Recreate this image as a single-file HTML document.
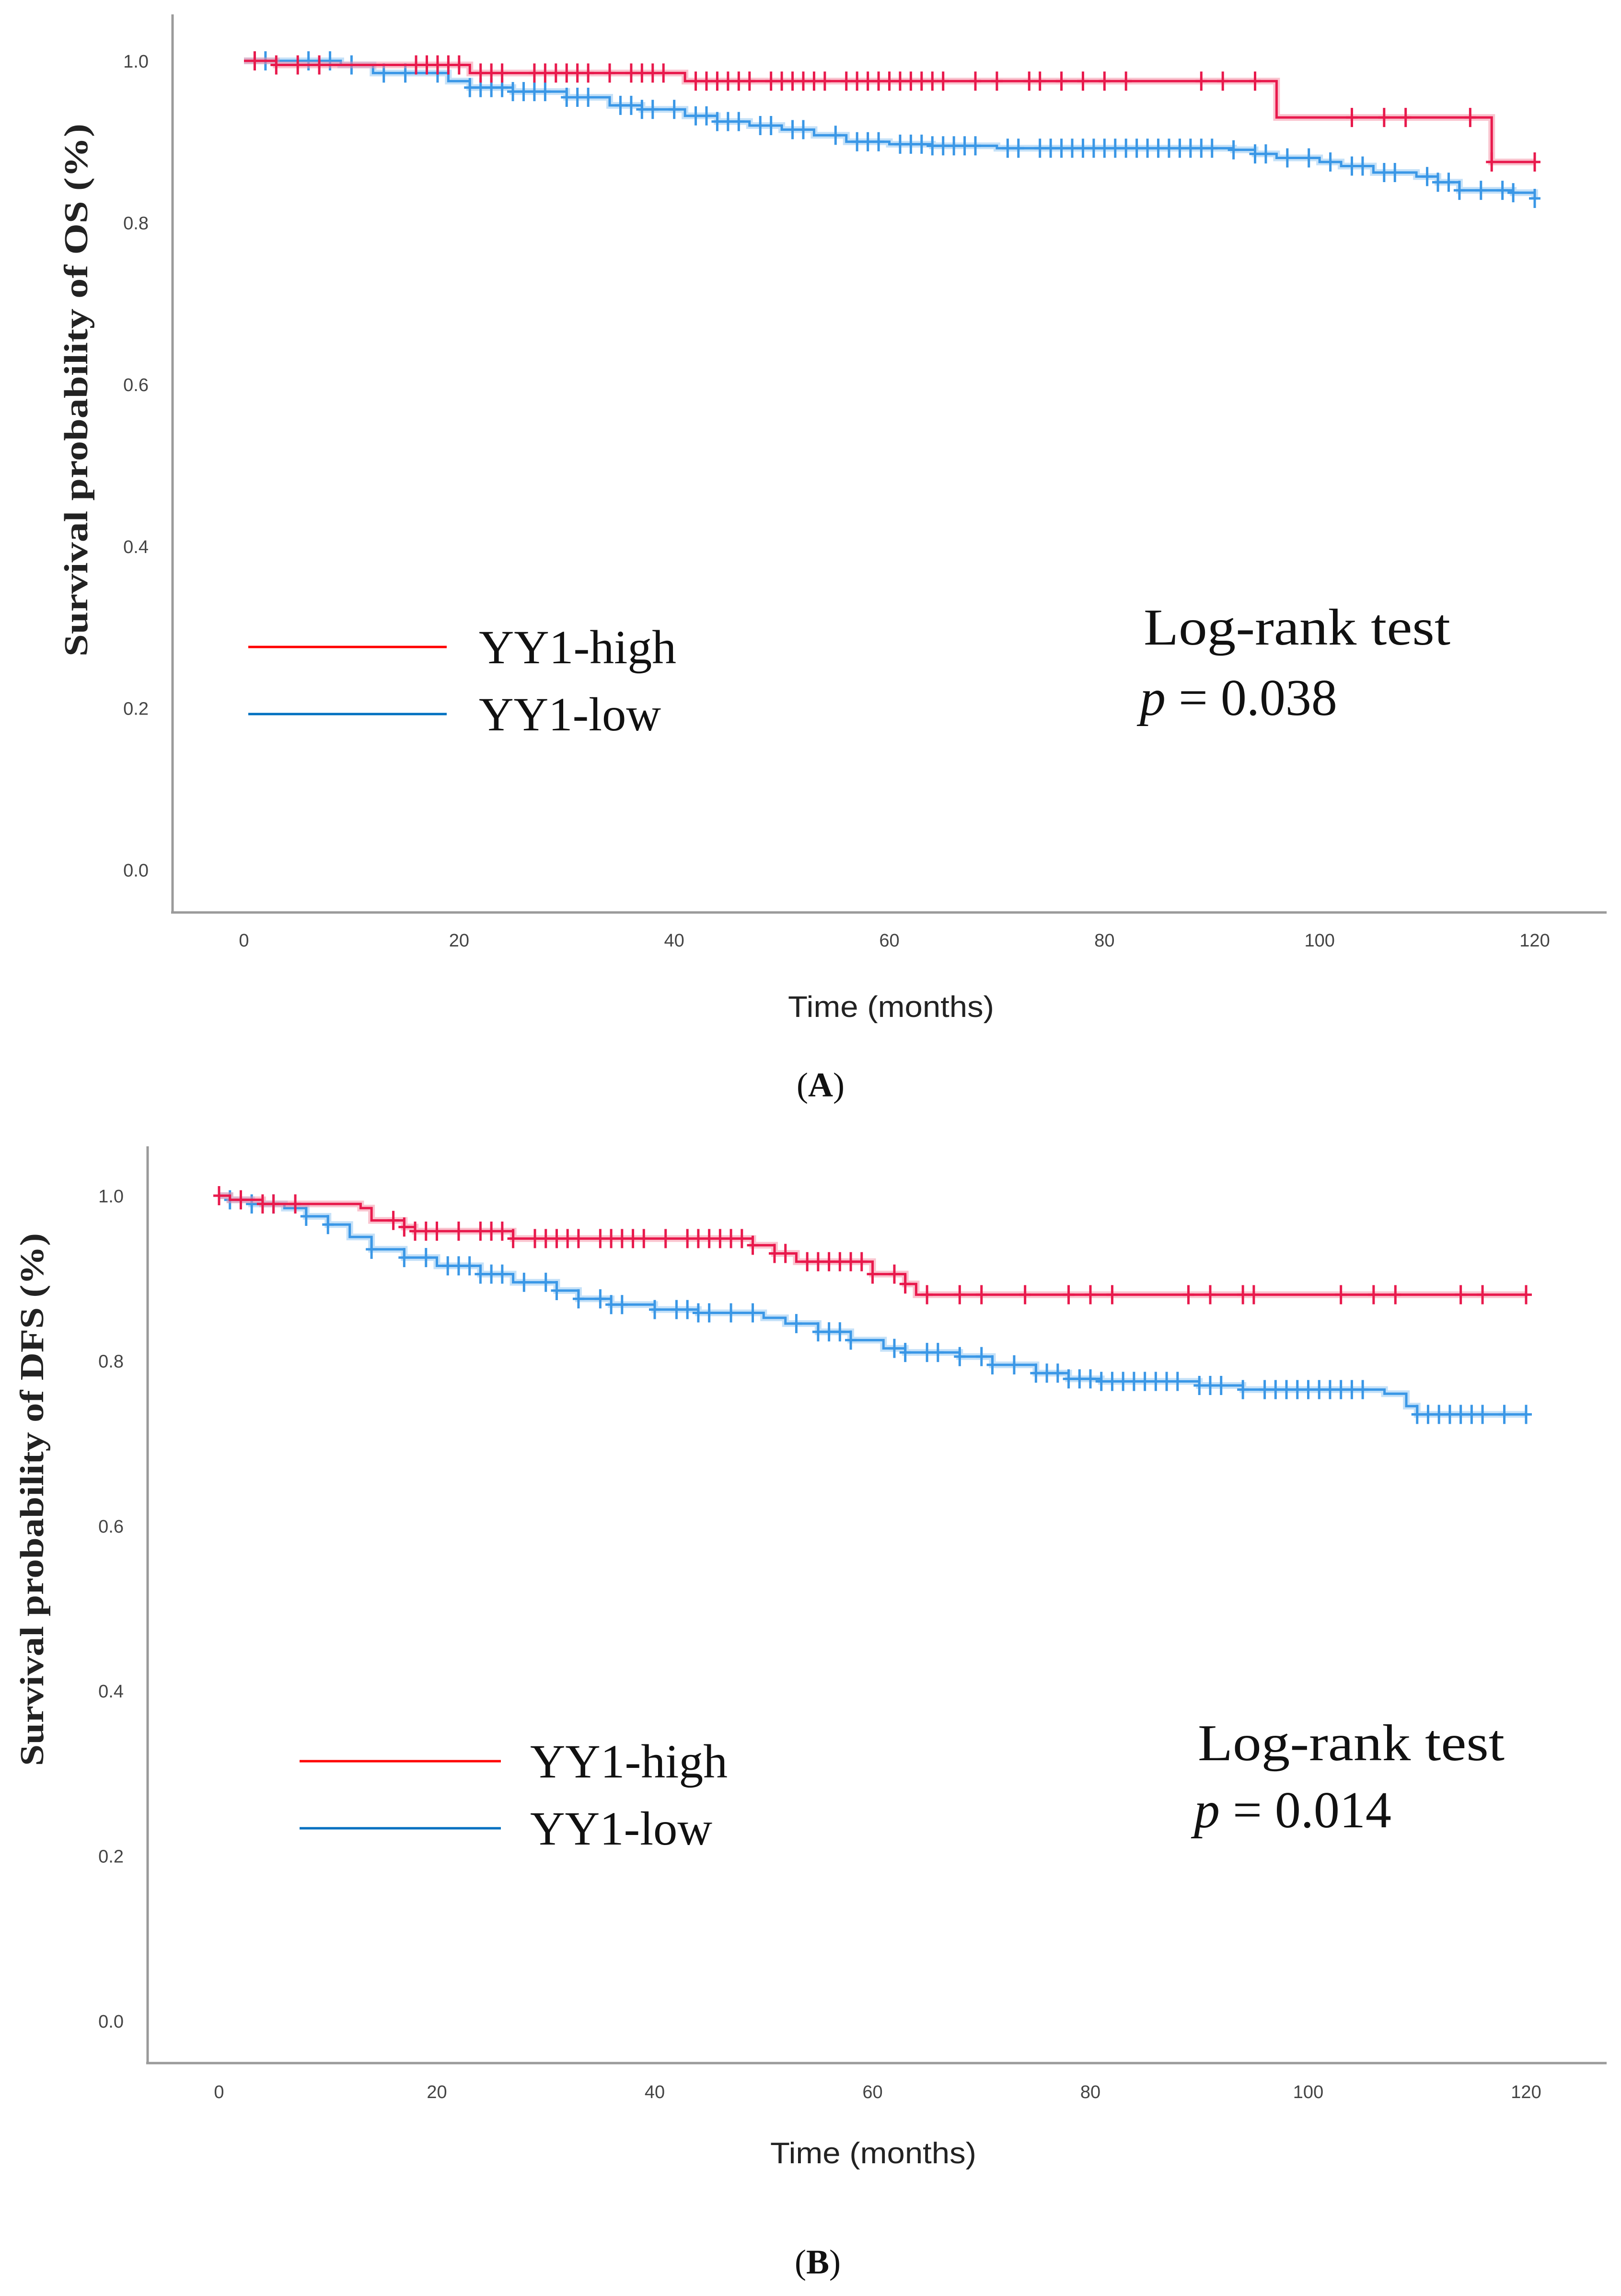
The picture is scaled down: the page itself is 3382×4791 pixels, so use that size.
<!DOCTYPE html>
<html><head><meta charset="utf-8"><style>
html,body{margin:0;padding:0;background:#fff;}
svg{display:block;}
</style></head><body>
<svg id="fig" width="3382" height="4791" viewBox="0 0 3382 4791" xmlns="http://www.w3.org/2000/svg"></svg>
<script>
// ---------- Panel A (OS) data ----------
const xTicks = [0,20,40,60,80,100,120];
const yTicks = [0.0,0.2,0.4,0.6,0.8,1.0];
const yTickLabels = ["0.0","0.2","0.4","0.6","0.8","1.0"];
const aHighT = [0,3,21,41,96,116,120];
const aHighS = [1.0,0.995,0.985,0.975,0.93,0.875,0.875];
const aHighCens = [1,3,5,7,16,17,18,19,20,22,23,24,27,28,29,30,31,32,34,36,37,38,39,42,43,44,45,46,47,49,50,51,52,53,54,56,57,58,59,60,61,62,63,64,65,68,70,73,74,76,78,80,82,89,91,94,103,106,108,114,116,120];
const aLowT = [0,9,12,19,21,25,30,34,37,41,44,47,50,53,56,60,64,70,92,94,96,100,102,105,109,111,113,118,120];
const aLowS = [1.0,0.995,0.985,0.975,0.967,0.962,0.955,0.945,0.94,0.932,0.925,0.92,0.915,0.908,0.9,0.897,0.895,0.892,0.89,0.885,0.88,0.875,0.87,0.862,0.857,0.85,0.84,0.837,0.83];
const aLowCens = [1,2,6,8,10,13,15,18,21,22,23,24,25,26,27,28,30,31,32,35,36,37,38,40,42,43,44,45,46,48,49,51,52,55,57,58,59,61,62,63,64,65,66,67,68,71,72,74,75,76,77,78,79,80,81,82,83,84,85,86,87,88,89,90,92,94,95,97,99,101,103,104,106,107,110,111,112,113,115,117,118,120];
// ---------- Panel B (DFS) data ----------
const bHighT = [0,1,4,13,14,17,18,27,49,51,53,60,63,64,120];
const bHighS = [1.0,0.995,0.99,0.985,0.97,0.962,0.957,0.948,0.94,0.93,0.92,0.905,0.893,0.88,0.88];
const bHighCens = [0,2,4,5,7,16,17,18,19,20,22,24,25,26,27,29,30,31,32,33,35,36,37,38,39,41,43,44,45,46,47,48,49,51,52,54,55,56,57,58,59,60,62,63,65,68,70,74,78,80,82,89,91,94,95,103,106,108,114,116,120];
const bLowT = [0,1,3,6,8,10,12,14,17,20,24,27,31,33,36,40,44,50,52,55,58,61,63,68,71,75,78,81,90,94,107,109,110,120];
const bLowS = [1.0,0.995,0.99,0.985,0.975,0.965,0.95,0.935,0.925,0.915,0.905,0.895,0.885,0.875,0.868,0.862,0.858,0.852,0.845,0.835,0.825,0.815,0.81,0.805,0.795,0.785,0.778,0.775,0.77,0.765,0.76,0.745,0.735,0.735];
const bLowCens = [1,3,5,8,10,14,17,19,21,22,23,24,25,26,28,30,31,33,35,36,37,40,42,43,44,45,47,49,53,55,56,57,58,62,63,65,66,68,70,71,73,75,76,77,78,79,80,81,82,83,84,85,86,87,88,90,91,92,94,96,97,98,99,100,101,102,103,104,105,110,111,112,113,114,115,116,118,120];

const NS = "http://www.w3.org/2000/svg";
const svg = document.getElementById('fig');
function mk(tag, attrs, parent){const e=document.createElementNS(NS,tag);for(const k in attrs)e.setAttribute(k,attrs[k]);(parent||svg).appendChild(e);return e;}

function panel(p){
  const g = mk('g',{});
  
  
  const X = t => p.x0 + (p.x120 - p.x0) * t / 120;
  const Y = s => p.y0 + (p.y1 - p.y0) * s;
  // axes
  const ya = mk('line',{x1:p.ax,y1:p.top,x2:p.ax,y2:p.bottom,stroke:'#9a9a9a','stroke-width':5},g);
  
  
  const xa = mk('line',{x1:p.ax-3,y1:p.bottom,x2:3352,y2:p.bottom,stroke:'#9a9a9a','stroke-width':5},g);
  
  
  xTicks.forEach(t=>{
    const tx = mk('text',{x:X(t),y:p.xLabY,'font-family':'Liberation Sans, sans-serif','font-size':38,fill:'#444','text-anchor':'middle'},g);
    tx.textContent = t;
    
    
  });
  yTicks.forEach((v,i)=>{
    const tx = mk('text',{x:p.ax-50,y:Y(v)+14,'font-family':'Liberation Sans, sans-serif','font-size':38,fill:'#444','text-anchor':'end'},g);
    tx.textContent = yTickLabels[i];
    
    
  });
  const xt = mk('text',{x:p.xTitleX,y:p.xTitleY,'font-family':'Liberation Sans, sans-serif','font-size':62,fill:'#222','text-anchor':'middle',textLength:430,lengthAdjust:'spacingAndGlyphs'},g);
  xt.textContent='Time (months)';
  
  
  const yt = mk('text',{x:0,y:0,'font-family':'Liberation Serif, serif','font-weight':'bold','font-size':70,fill:'#222','text-anchor':'middle',textLength:p.yTitleLen,lengthAdjust:'spacingAndGlyphs',transform:`translate(${p.yTitleX},${p.yTitleY}) rotate(-90)`},g);
  yt.textContent=p.yTitle;
  
  

  function curve(T,S,C,col,halo,nm){
    let d = `M${X(T[0])},${Y(S[0])}`;
    for(let i=1;i<T.length;i++){d+=` H${X(T[i])} V${Y(S[i])}`;}
    const h = mk('path',{d:d,fill:'none',stroke:halo,'stroke-width':14,'stroke-opacity':0.5},g);
    
    
    const l = mk('path',{d:d,fill:'none',stroke:col,'stroke-width':5},g);
    
    
    const sAt = t=>{let s=S[0];for(let i=0;i<T.length;i++){if(T[i]<=t)s=S[i];}return s;};
    C.forEach(t=>{
      const cx=X(t), cy=Y(sAt(t));
      const m = mk('path',{d:`M${cx},${cy-20} V${cy+20} M${cx-12},${cy} H${cx+12}`,stroke:col,'stroke-width':5,fill:'none'},g);
      
      
    });
  }
  curve(p.lowT,p.lowS,p.lowC,'#3a97e6','#8cc4f2','yy1-low');
  curve(p.highT,p.highS,p.highC,'#e8194c','#f5899f','yy1-high');

  // legend
  const lg = mk('g',{},g);
  
  
  const l1 = mk('line',{x1:p.legX1,x2:p.legX2,y1:p.legY1,y2:p.legY1,stroke:'#ff0000','stroke-width':5},lg);
  
  
  const l2 = mk('line',{x1:p.legX1,x2:p.legX2,y1:p.legY2,y2:p.legY2,stroke:'#0070c0','stroke-width':5},lg);
  
  
  const t1 = mk('text',{x:p.legTX,y:p.legY1+34,'font-family':'Liberation Serif, serif','font-size':100,fill:'#111',textLength:412,lengthAdjust:'spacingAndGlyphs'},lg);
  t1.textContent='YY1-high';
  
  
  const t2 = mk('text',{x:p.legTX,y:p.legY2+34,'font-family':'Liberation Serif, serif','font-size':100,fill:'#111',textLength:380,lengthAdjust:'spacingAndGlyphs'},lg);
  t2.textContent='YY1-low';
  
  
  // stats
  const s1 = mk('text',{x:p.statX,y:p.statY1,'font-family':'Liberation Serif, serif','font-size':108,fill:'#111',textLength:640,lengthAdjust:'spacingAndGlyphs'},g);
  s1.textContent='Log-rank test';
  
  
  const s2 = mk('text',{x:p.statX-8,y:p.statY2,'font-family':'Liberation Serif, serif','font-size':108,fill:'#111'},g);
  s2.innerHTML = `<tspan font-style="italic">p</tspan> = ${p.pval}`;
  
  
  const cap = mk('text',{x:p.capX,y:p.capY,'font-family':'Liberation Serif, serif','font-size':72,fill:'#111','text-anchor':'middle'},g);
  cap.innerHTML = `(<tspan font-weight="bold">${p.cap}</tspan>)`;
  
  
}

panel({name:'panel-a-os',ax:360,top:30,bottom:1904,x0:509,x120:3202,y0:1815,y1:127,xLabY:1975,
  xTitleX:1859,xTitleY:2122,yTitle:'Survival probability of OS (%)',yTitleX:182,yTitleY:814,yTitleLen:1112,
  highT:aHighT,highS:aHighS,highC:aHighCens,lowT:aLowT,lowS:aLowS,lowC:aLowCens,
  legX1:518,legX2:932,legY1:1350,legY2:1490,legTX:999,statX:2386,statY1:1345,statY2:1492,pval:'0.038',
  cap:'A',capX:1712,capY:2288});
panel({name:'panel-b-dfs',ax:308,top:2392,bottom:4305,x0:457,x120:3184,y0:4217,y1:2495,xLabY:4378,
  xTitleX:1822,xTitleY:4514,yTitle:'Survival probability of DFS (%)',yTitleX:90,yTitleY:3129,yTitleLen:1112,
  highT:bHighT,highS:bHighS,highC:bHighCens,lowT:bLowT,lowS:bLowS,lowC:bLowCens,
  legX1:625,legX2:1045,legY1:3675,legY2:3815,legTX:1106,statX:2499,statY1:3673,statY2:3813,pval:'0.014',
  cap:'B',capX:1706,capY:4744});
</script>
</body></html>
